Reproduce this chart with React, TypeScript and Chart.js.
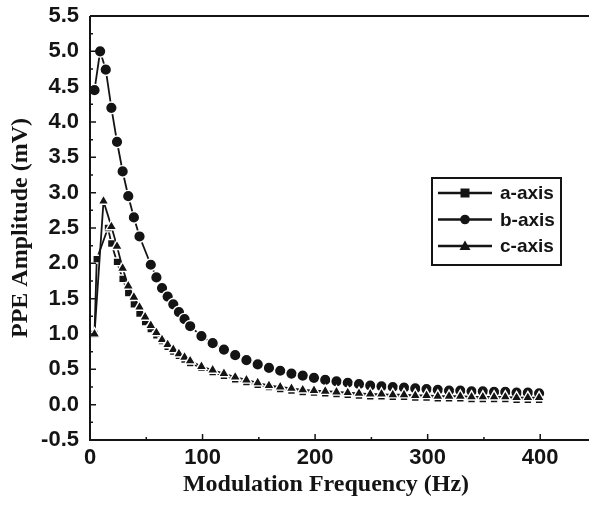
import React, { useEffect, useRef } from 'react';
import { Chart, registerables } from 'chart.js';

Chart.register(...registerables);

// Modulation frequency (Hz)
const freq = [4, 6, 9, 12, 14, 16, 19, 24, 29, 34, 39, 44, 49, 54, 59, 64, 69, 74, 79, 84, 89,
  99, 109, 119, 129, 139, 149, 159, 169, 179, 189, 199, 209, 219, 229, 239, 249, 259, 269, 279,
  289, 299, 309, 319, 329, 339, 349, 359, 369, 379, 389, 399];

// PPE amplitude (mV)
const aAxis = [1.0, 2.06, null, null, null, 2.5, 2.28, 2.02, 1.78, 1.58, 1.42, 1.29, 1.17, 1.07, 0.98, 0.9, 0.82, 0.75, 0.69, 0.64, 0.59,
  0.52, 0.46, 0.41, 0.36, 0.32, 0.28, 0.25, 0.22, 0.2, 0.18, 0.17, 0.16, 0.15, 0.14, 0.13, 0.12, 0.12, 0.11, 0.11,
  0.1, 0.1, 0.09, 0.09, 0.09, 0.08, 0.08, 0.08, 0.08, 0.07, 0.07, 0.07];

const bAxis = [4.45, null, 5.0, null, 4.74, null, 4.2, 3.72, 3.3, 2.95, 2.65, 2.38, null, 1.98, 1.8, 1.65, 1.53, 1.42, 1.31, 1.21, 1.11,
  0.97, 0.87, 0.78, 0.7, 0.63, 0.57, 0.52, 0.48, 0.44, 0.41, 0.38, 0.35, 0.33, 0.31, 0.29, 0.27, 0.26, 0.25, 0.24,
  0.23, 0.22, 0.21, 0.2, 0.2, 0.19, 0.19, 0.18, 0.18, 0.17, 0.17, 0.16];

const cAxis = [1.0, null, null, 2.88, null, null, 2.52, 2.24, 1.93, 1.68, 1.52, 1.38, 1.24, 1.12, 1.02, 0.92, 0.85, 0.78, 0.72, 0.67, 0.62,
  0.54, 0.49, 0.44, 0.39, 0.35, 0.31, 0.27, 0.25, 0.23, 0.21, 0.2, 0.19, 0.18, 0.17, 0.16, 0.15, 0.15, 0.14, 0.14,
  0.13, 0.13, 0.12, 0.12, 0.12, 0.11, 0.11, 0.11, 0.11, 0.1, 0.1, 0.1];

const seriesLabels = ['a-axis', 'b-axis', 'c-axis'];
const seriesStyles = ['rect', 'circle', 'triangle'];

const xTitle = 'Modulation Frequency (Hz)';
const yTitle = 'PPE Amplitude (mV)';

const INK = '#141414';
const SANS = '"Liberation Sans", Arial, sans-serif';
const SERIF = '"Liberation Serif", "Times New Roman", serif';

function drawMarker(ctx: CanvasRenderingContext2D, style: string, x: number, y: number) {
  ctx.beginPath();
  if (style === 'rect') {
    ctx.rect(x - 4.5, y - 4.5, 9, 9);
  } else if (style === 'circle') {
    ctx.arc(x, y, 4.8, 0, Math.PI * 2);
  } else {
    ctx.moveTo(x, y - 5.5);
    ctx.lineTo(x + 5.5, y + 4);
    ctx.lineTo(x - 5.5, y + 4);
    ctx.closePath();
  }
  ctx.fill();
}

const framePlugin = {
  id: 'frame',
  afterDraw(chart: any) {
    const { ctx, chartArea, scales } = chart;
    const { left, top, bottom } = chartArea;
    const right = chart.width;
    const x = scales.x;
    const y = scales.y;
    ctx.save();
    ctx.strokeStyle = INK;
    ctx.lineWidth = 2;
    ctx.beginPath();
    ctx.moveTo(left, top);
    ctx.lineTo(right, top);
    ctx.moveTo(left, top);
    ctx.lineTo(left, bottom);
    ctx.lineTo(right, bottom);
    ctx.stroke();
    ctx.lineWidth = 1.5;
    ctx.beginPath();
    const xt = x.ticks.map((t: any) => t.value);
    xt.forEach((v: number, i: number) => {
      const px = x.getPixelForValue(v);
      ctx.moveTo(px, bottom);
      ctx.lineTo(px, bottom - 6);
      if (i < xt.length - 1) {
        const mp = x.getPixelForValue((v + xt[i + 1]) / 2);
        ctx.moveTo(mp, bottom);
        ctx.lineTo(mp, bottom - 3);
      }
    });
    const yt = y.ticks.map((t: any) => t.value);
    yt.forEach((v: number, i: number) => {
      const py = y.getPixelForValue(v);
      ctx.moveTo(left, py);
      ctx.lineTo(left + 6, py);
      if (i < yt.length - 1) {
        const mp = y.getPixelForValue((v + yt[i + 1]) / 2);
        ctx.moveTo(left, mp);
        ctx.lineTo(left + 3, mp);
      }
    });
    ctx.stroke();

    // x-axis title (the original figure places it left of the plot centre)
    ctx.fillStyle = INK;
    ctx.font = `bold 24px ${SERIF}`;
    ctx.textAlign = 'center';
    ctx.textBaseline = 'middle';
    ctx.fillText(xTitle, left + 236, chart.height - 21);
    ctx.restore();
  },
};

const legendPlugin = {
  id: 'boxLegend',
  afterDraw(chart: any) {
    const { ctx } = chart;
    const bx = 432, by = 178, bw = 129, bh = 87;
    ctx.save();
    ctx.fillStyle = '#fff';
    ctx.fillRect(bx, by, bw, bh);
    ctx.strokeStyle = INK;
    ctx.lineWidth = 2;
    ctx.strokeRect(bx, by, bw, bh);
    chart.data.datasets.forEach((ds: any, i: number) => {
      const cy = by + 15 + i * 26.5;
      ctx.strokeStyle = INK;
      ctx.fillStyle = INK;
      ctx.lineWidth = 2.5;
      ctx.beginPath();
      ctx.moveTo(bx + 6, cy);
      ctx.lineTo(bx + 60, cy);
      ctx.stroke();
      drawMarker(ctx, ds.pointStyle, bx + 33, cy);
      ctx.font = `bold 19px ${SANS}`;
      ctx.textBaseline = 'middle';
      ctx.textAlign = 'left';
      ctx.fillText(ds.label, bx + 68, cy + 1);
    });
    ctx.restore();
  },
};

export default function App() {
  const canvasRef = useRef<HTMLCanvasElement | null>(null);

  useEffect(() => {
    const canvas = canvasRef.current;
    if (!canvas) return;
    const series = [aAxis, bAxis, cAxis];
    const orders = [2, 1, 0];
    const radii = [5.5, 5.8, 6.3];
    const datasets = series.map((vals, i) => ({
      label: seriesLabels[i],
      data: freq.map((f, j) => ({ x: f, y: vals[j] })),
      pointStyle: seriesStyles[i],
      borderColor: INK,
      borderWidth: 1.8,
      pointBackgroundColor: INK,
      pointBorderColor: '#ffffff',
      pointBorderWidth: 1.4,
      pointRadius: radii[i],
      spanGaps: true,
      tension: 0,
      order: orders[i],
      fill: false,
      clip: false,
    }));
    const chart = new Chart(canvas, {
      type: 'line',
      data: { datasets },
      options: {
        animation: false,
        responsive: false,
        maintainAspectRatio: false,
        events: [],
        layout: { padding: { top: 16, right: 0, bottom: 0, left: 0 } },
        plugins: { legend: { display: false }, tooltip: { enabled: false } },
        scales: {
          x: {
            type: 'linear',
            min: 0,
            max: 436.5,
            grid: { display: false, drawTicks: false },
            border: { display: false },
            ticks: {
              stepSize: 100,
              includeBounds: false,
              padding: 5,
              color: INK,
              maxRotation: 0,
              font: { family: SANS, weight: 'bold', size: 22 },
            },
            title: { display: false },
            afterFit: (s: any) => { s.height = 66; s.paddingLeft = 0; s.paddingRight = 0; },
          },
          y: {
            type: 'linear',
            min: -0.5,
            max: 5.5,
            grid: { display: false, drawTicks: false },
            border: { display: false },
            ticks: {
              stepSize: 0.5,
              padding: 11,
              color: INK,
              font: { family: SANS, weight: 'bold', size: 22 },
              callback: (v: any) => Number(v).toFixed(1),
            },
            title: {
              display: true,
              text: yTitle,
              color: INK,
              padding: { top: 6, bottom: 0 },
              font: { family: SERIF, weight: 'bold', size: 24 },
            },
            afterFit: (s: any) => { s.width = 90; s.paddingTop = 0; s.paddingBottom = 0; },
          },
        },
      },
      plugins: [framePlugin, legendPlugin],
    } as any);
    return () => chart.destroy();
  }, []);

  return (
    <div style={{ position: 'absolute', left: 0, top: 0, width: 589, height: 506, background: '#fff' }}>
      <canvas ref={canvasRef} width={589} height={506} style={{ display: 'block', width: 589, height: 506 }} />
    </div>
  );
}
